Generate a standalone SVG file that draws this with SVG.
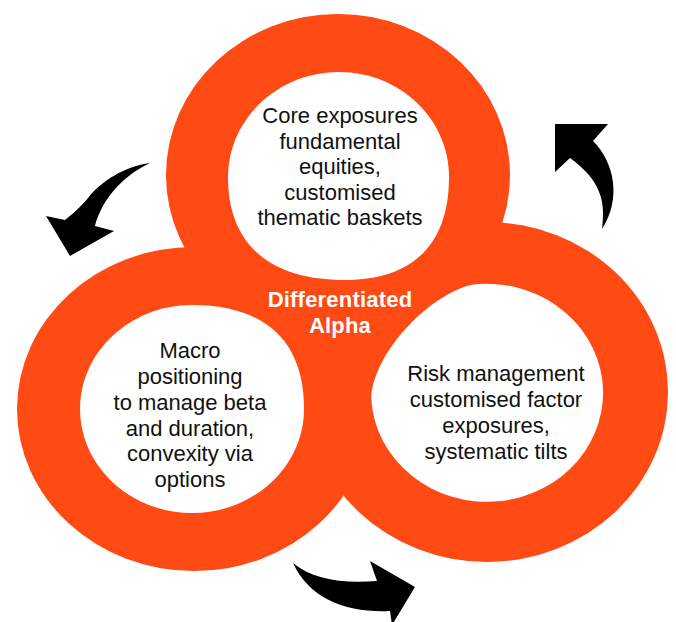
<svg xmlns="http://www.w3.org/2000/svg" width="676" height="622" viewBox="0 0 676 622">
  <style>
    .ring { fill: #FF4A14; }
    .hole { fill: #FFFFFF; }
    .body { font-family: "Liberation Sans", Arial, sans-serif; font-size: 22px; fill: #111111; text-anchor: middle; }
    .core { font-family: "Liberation Sans", Arial, sans-serif; font-size: 22px; font-weight: bold; fill: #FFFFFF; text-anchor: middle; letter-spacing: 0.2px; }
    .arrow { fill: #000000; }
  </style>

  <rect width="676" height="622" fill="#FFFFFF"/>

  <!-- orange band: union of the three outer rings -->
  <g id="rings">
    <ellipse class="ring" cx="338" cy="175" rx="172" ry="161"/>
    <ellipse class="ring" cx="194" cy="409" rx="177" ry="162"/>
    <ellipse class="ring" cx="487" cy="392" rx="181" ry="170"/>
  </g>

  <!-- top node -->
  <g id="node-core-exposures">
    <path class="hole" d="M339,72 C400,72 449,119 449,177 C449,244 413,280 345,280 C269,280 228,244 228,177 C228,119 278,72 339,72 Z"/>
    <text class="body" x="340" y="123">Core exposures</text>
    <text class="body" x="340" y="148.5">fundamental</text>
    <text class="body" x="340" y="174">equities,</text>
    <text class="body" x="340" y="199.5">customised</text>
    <text class="body" x="340" y="225">thematic baskets</text>
  </g>

  <!-- left node -->
  <g id="node-macro-positioning">
    <path class="hole" d="M192,305 C265,305 304,341 304,409 C304,466 254,513 192,513 C130,513 80,466 80,409 C80,352 130,305 192,305 Z"/>
    <text class="body" x="190" y="358">Macro</text>
    <text class="body" x="190" y="384">positioning</text>
    <text class="body" x="190" y="410">to manage beta</text>
    <text class="body" x="190" y="435.5">and duration,</text>
    <text class="body" x="190" y="461">convexity via</text>
    <text class="body" x="190" y="487">options</text>
  </g>

  <!-- right node -->
  <g id="node-risk-management">
    <path class="hole" d="M470,285 A116,109 0 1 1 371.3,400 C371,360 420,300 470,285 Z"/>
    <text class="body" x="496" y="381">Risk management</text>
    <text class="body" x="496" y="407">customised factor</text>
    <text class="body" x="496" y="433">exposures,</text>
    <text class="body" x="496" y="458.5">systematic tilts</text>
  </g>

  <!-- centre label -->
  <g id="node-differentiated-alpha">
    <text class="core" x="340" y="307">Differentiated</text>
    <text class="core" x="340" y="333">Alpha</text>
  </g>

  <!-- curved cycle arrows -->
  <g id="connectors">
    <path class="arrow" d="M150,163 C125,166 100,182 88,198 C80,208 70,216 65,220 L46,216 L70,256 L114,231 L95,226 C100,205 118,178 150,163 Z"/>
    <path class="arrow" d="M555,124 L608,124 L593,141 C614,162 622,198 602,229 C606,200 600,180 570,158 L555,172 Z"/>
    <path class="arrow" d="M293,563 C312,579 342,584 377,581 L370,561 L415,587 L392,625 L390,611 C348,613 310,600 293,563 Z"/>
  </g>
</svg>
